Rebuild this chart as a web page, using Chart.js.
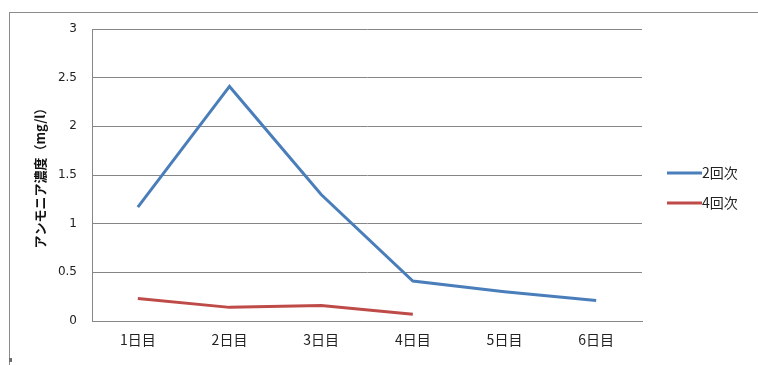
<!DOCTYPE html>
<html>
<head>
<meta charset="utf-8">
<script src="https://cdn.jsdelivr.net/npm/chart.js@4"></script>
<style>
  html, body { margin: 0; padding: 0; background: #fff; }
  #wrap { position: relative; width: 758px; height: 365px; overflow: hidden; }
  #frame { position: absolute; left: 9px; top: 12px; width: 800px; height: 400px;
           border-top: 1px solid #8c8c8c; border-left: 1px solid #8c8c8c; }
  #handle { position: absolute; left: 9px; top: 358px; width: 3px; height: 4px; background: #6d6d6d; }
  canvas { position: absolute; left: 0; top: 0; }
</style>
</head>
<body>
<div id="wrap">
  <div id="frame"></div>
  <div id="handle"></div>
  <canvas id="c" width="758" height="365"></canvas>
</div>
<script>
// 測定日
const days = ['1日目', '2日目', '3日目', '4日目', '5日目', '6日目'];
// アンモニア濃度 (mg/l)
const run2 = [1.17, 2.41, 1.30, 0.41, 0.30, 0.21];
const run4 = [0.23, 0.14, 0.16, 0.07, null, null];
const seriesNames = ['2回次', '4回次'];
const yTicks = [0, 0.5, 1, 1.5, 2, 2.5, 3];
const yTitle = 'アンモニア濃度（mg/l）';

const FONT = "'Noto Sans CJK JP', 'Noto Sans', sans-serif";
const NUMFONT = "'DejaVu Sans', 'Noto Sans CJK JP', sans-serif";
const GRID = '#868686';

// Legend drawn to the right of the plot: short line sample + label
const sideLegend = {
  id: 'sideLegend',
  afterDraw(chart) {
    const { ctx, chartArea } = chart;
    const x0 = chartArea.right + 25;
    const yMid = (chartArea.top + chartArea.bottom) / 2 + 13;
    ctx.save();
    ctx.font = '14px ' + FONT;
    ctx.textBaseline = 'middle';
    ctx.textAlign = 'left';
    chart.data.datasets.forEach((ds, i) => {
      const y = yMid - 15 + i * 30;
      ctx.strokeStyle = ds.borderColor;
      ctx.lineWidth = 3;
      ctx.beginPath();
      ctx.moveTo(x0, y);
      ctx.lineTo(x0 + 35, y);
      ctx.stroke();
      ctx.fillStyle = '#222';
      ctx.fillText(ds.label, x0 + 35, y);
    });
    ctx.restore();
  }
};

new Chart(document.getElementById('c'), {
  type: 'line',
  data: {
    labels: days,
    datasets: [
      { label: seriesNames[0], data: run2, borderColor: '#4A7EBB', backgroundColor: '#4A7EBB',
        borderWidth: 3, pointRadius: 0, tension: 0, spanGaps: false },
      { label: seriesNames[1], data: run4, borderColor: '#BE4B48', backgroundColor: '#BE4B48',
        borderWidth: 3, pointRadius: 0, tension: 0, spanGaps: false }
    ]
  },
  options: {
    responsive: false,
    animation: false,
    events: [],
    layout: { padding: { top: 29, right: 116, left: 0, bottom: 0 } },
    plugins: { legend: { display: false }, tooltip: { enabled: false } },
    scales: {
      x: {
        offset: true,
        grid: { display: false, drawTicks: false },
        border: { display: true, color: GRID, width: 1 },
        ticks: { color: '#222', font: { family: FONT, size: 14 }, padding: 10, maxRotation: 0 },
        afterFit(s) { s.height = 44; }
      },
      y: {
        min: 0, max: 3,
        afterBuildTicks(s) { s.ticks = yTicks.map(v => ({ value: v })); },
        grid: { color: GRID, lineWidth: 1, drawTicks: false },
        border: { display: true, color: GRID, width: 1 },
        ticks: { color: '#222', font: { family: NUMFONT, size: 12 }, padding: 15,
                 callback: v => String(v) },
        title: { display: true, text: yTitle, color: '#111',
                 font: { family: FONT, size: 13, weight: 'bold' }, padding: { top: 32, bottom: 0 } },
        afterFit(s) { s.width = 92; }
      }
    }
  },
  plugins: [sideLegend]
});
</script>
</body>
</html>
